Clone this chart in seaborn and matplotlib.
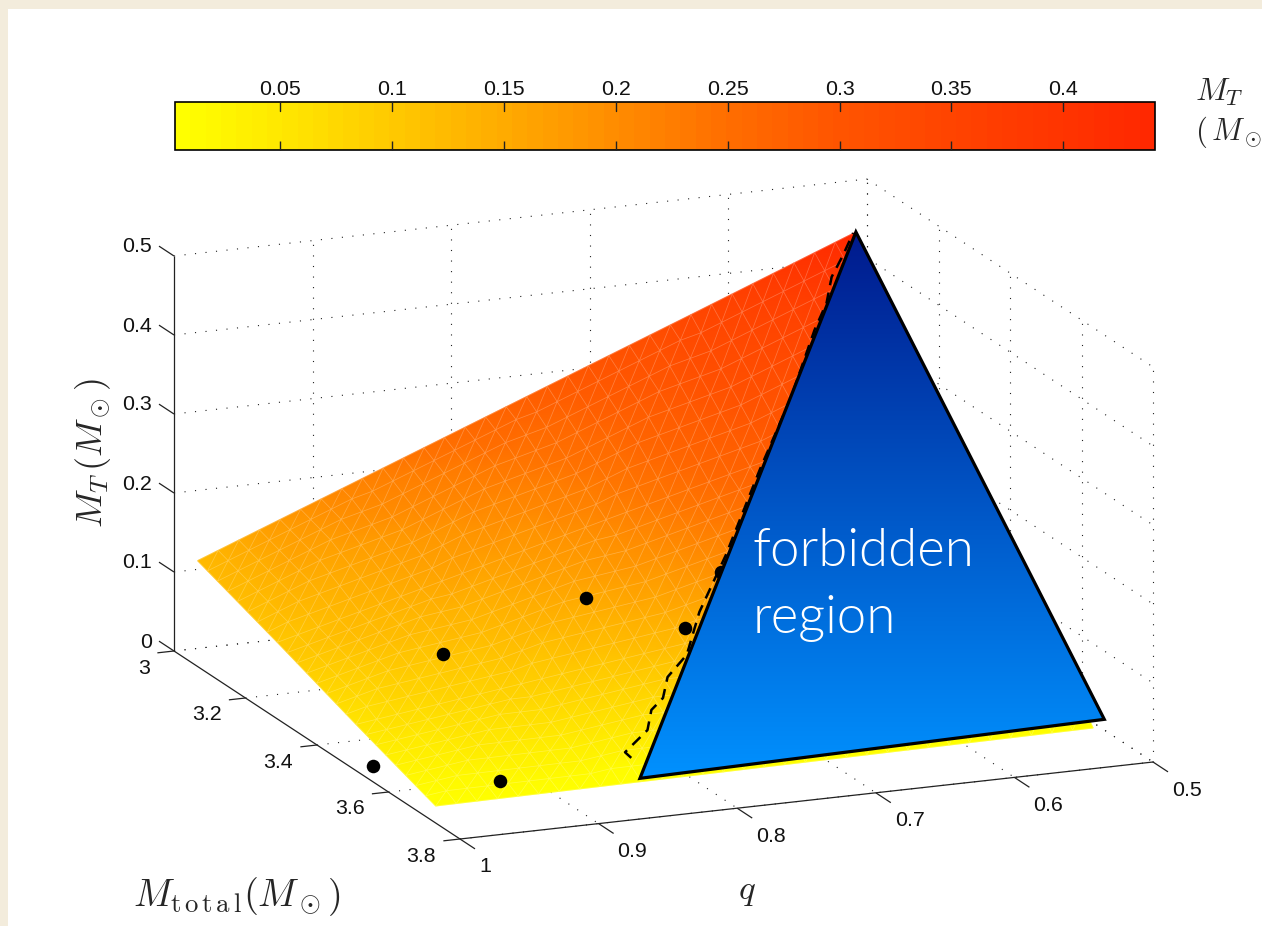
import numpy as np
import matplotlib
matplotlib.use('Agg')  # no display in here
import matplotlib.pyplot as plt
import matplotlib.tri as mtri
from matplotlib.colors import LinearSegmentedColormap, Normalize
from matplotlib.cm import ScalarMappable
from matplotlib.lines import Line2D
from matplotlib.patches import Rectangle
import seaborn as sns

# axis ticks
q_ticks = [1, 0.9, 0.8, 0.7, 0.6, 0.5]
q_tick_labels = ['1', '0.9', '0.8', '0.7', '0.6', '0.5']
mtot_ticks = [3, 3.2, 3.4, 3.6, 3.8]
mtot_tick_labels = ['3', '3.2', '3.4', '3.6', '3.8']
mt_ticks = [0, 0.1, 0.2, 0.3, 0.4, 0.5]
mt_tick_labels = ['0', '0.1', '0.2', '0.3', '0.4', '0.5']
cbar_ticks = [0.05, 0.1, 0.15, 0.2, 0.25, 0.3, 0.35, 0.4]
cbar_tick_labels = ['0.05', '0.1', '0.15', '0.2', '0.25', '0.3', '0.35', '0.4']

# colorbar colours (value -> green channel, red is always full)
cmap_vals = [0.003, 0.05, 0.1, 0.15, 0.2, 0.25, 0.3, 0.35, 0.441]
cmap_green = [255, 230, 200, 170, 140, 110, 85, 68, 40]

# surface, rows go from Mtotal=3 to the low edge
surf_q = [[0.983, 0.864, 0.7455, 0.627, 0.508],
          [0.983, 0.864, 0.745, 0.626, 0.507],
          [0.984, 0.864, 0.745, 0.625, 0.506],
          [0.984, 0.864, 0.7445, 0.625, 0.505]]
surf_mtot = [[3.0, 3.0, 3.0, 3.0, 3.0],
             [3.223, 3.222, 3.220, 3.219, 3.217],
             [3.447, 3.444, 3.441, 3.438, 3.435],
             [3.67, 3.6655, 3.661, 3.6565, 3.652]]
surf_mt = [[0.111, 0.192, 0.2725, 0.353, 0.4345],
           [0.074, 0.128, 0.182, 0.235, 0.290],
           [0.037, 0.064, 0.091, 0.118, 0.145],
           [0.0, 0.0, 0.0, 0.0, 0.0]]
# colour of the same nodes, taken against the colorbar
surf_colour = [[0.125, 0.22, 0.28, 0.34, 0.44],
               [0.105, 0.155, 0.21, 0.28, 0.30],
               [0.055, 0.09, 0.125, 0.17, 0.20],
               [0.0, 0.0, 0.0, 0.0, 0.0]]

# the blue triangle
forbid_q = [0.508, 0.832, 0.490]
forbid_mtot = [3.0, 3.652, 3.625]
forbid_mt = [0.4345, 0.0, 0.0]
forbid_shade = [0.0, 1.0, 0.89]

# black dots
dot_q = [0.985, 0.935, 0.921, 0.832, 0.76, 0.734]
dot_mtot = [3.499, 3.5, 3.605, 3.5, 3.5, 3.5]
dot_mt = [0.0, 0.132, 0.0, 0.183, 0.131, 0.197]

# dashed boundary
dash_q = [0.830, 0.8345, 0.808, 0.800, 0.7865, 0.778, 0.759, 0.737, 0.705,
          0.660, 0.6175, 0.609, 0.574, 0.555, 0.541, 0.525, 0.510]
dash_mtot = [3.62, 3.62, 3.58, 3.56, 3.54, 3.52, 3.50, 3.45, 3.40,
             3.32, 3.24, 3.22, 3.14, 3.10, 3.06, 3.03, 3.0]
dash_mt = [0.016, 0.024, 0.035, 0.053, 0.0595, 0.0785, 0.097, 0.132, 0.183,
           0.258, 0.3146, 0.3233, 0.3648, 0.3834, 0.4018, 0.4175, 0.4337]


def project(q, mtot, mt):
    # matlab view is basically orthographic so this is just an affine map to pixels
    q, mtot, mt = np.asarray(q, float), np.asarray(mtot, float), np.asarray(mt, float)
    px = 174 + (mtot - 3) * 357.5 + (1 - q) * 1386
    py = 651 + (mtot - 3) * 235 - (1 - q) * 154 - mt * 790
    return px, py


sns.set_theme(style='white')
plt.rcParams['font.family'] = ['Liberation Sans', 'DejaVu Sans']
plt.rcParams['mathtext.fontset'] = 'cm'

fig = plt.figure(figsize=(12.62, 9.26), dpi=100, facecolor='#f3ecdc')
ax = fig.add_axes([0, 0, 1, 1])
ax.set_xlim(0, 1262)
ax.set_ylim(926, 0)
ax.axis('off')
ax.add_patch(Rectangle((8, 9), 1262, 926, facecolor='white', edgecolor='none', zorder=0))

dotted = dict(color='#222222', lw=0.8, linestyle=(0, (1, 8.5)), zorder=1)
solid = dict(color='#222222', lw=0.9, zorder=1.5, solid_capstyle='butt')

# back wall grids
for mt in mt_ticks:
    ax.plot(*project([1, 0.5], [3, 3], [mt, mt]), **dotted)
    ax.plot(*project([0.5, 0.5], [3, 3.8], [mt, mt]), **dotted)
for q in q_ticks[1:]:
    ax.plot(*project([q, q], [3, 3], [0, 0.5]), **dotted)
    ax.plot(*project([q, q], [3, 3.8], [0, 0]), **dotted)
for m in mtot_ticks:
    ax.plot(*project([0.5, 0.5], [m, m], [0, 0.5]), **dotted)
    ax.plot(*project([1, 0.5], [m, m], [0, 0]), **dotted)

# solid axes and ticks
ax.plot(*project([1, 1], [3, 3], [0, 0.5]), **solid)
ax.plot(*project([1, 1], [3, 3.8], [0, 0]), **solid)
ax.plot(*project([1, 0.5], [3.8, 3.8], [0, 0]), **solid)

for mt, lab in zip(mt_ticks, mt_tick_labels):
    ax.plot(*project([1, 1], [3, 2.958], [mt, mt]), **solid)
    px, py = project(1, 3, mt)
    ax.text(px - 22, py - 9, lab, ha='right', va='center', fontsize=15.4, color='#111111')
for m, lab in zip(mtot_ticks, mtot_tick_labels):
    ax.plot(*project([1, 1.012], [m, m], [0, 0]), **solid)
    px, py = project(1, m, 0)
    ax.text(px - 24, py + 17, lab, ha='right', va='center', fontsize=15.4, color='#111111')
for q, lab in zip(q_ticks, q_tick_labels):
    ax.plot(*project([q, q], [3.8, 3.842], [0, 0]), **solid)
    px, py = project(q, 3.8, 0)
    ax.text(px + 19, py + 28, lab, ha='left', va='center', fontsize=15.4, color='#111111')

# surface, refiner makes the fine triangle mesh the picture has
cmap_pos = (np.array(cmap_vals) - cmap_vals[0]) / (cmap_vals[-1] - cmap_vals[0])
cmap = LinearSegmentedColormap.from_list(
    'ylrd', [(p, (1, g / 255, 0)) for p, g in zip(cmap_pos, cmap_green)], N=64)
norm = Normalize(cmap_vals[0], cmap_vals[-1])

sx, sy = project(surf_q, surf_mtot, surf_mt)
nrow, ncol = sx.shape
tris = []
for i in range(nrow - 1):
    for j in range(ncol - 1):
        a, b, c, d = i * ncol + j, i * ncol + j + 1, (i + 1) * ncol + j, (i + 1) * ncol + j + 1
        tris += [[a, b, c], [b, d, c]]
surf_tri = mtri.Triangulation(sx.ravel(), sy.ravel(), tris)
fine_tri, fine_c = mtri.UniformTriRefiner(surf_tri).refine_field(np.ravel(surf_colour), subdiv=3)
ax.tripcolor(fine_tri, fine_c, shading='gouraud', cmap=cmap, norm=norm, zorder=2)
ax.triplot(fine_tri, color='white', lw=0.55, alpha=0.25, zorder=2.1)

# dots and dashed line through seaborn, they sit under the triangle
dx, dy = project(dot_q, dot_mtot, dot_mt)
sns.scatterplot(x=dx, y=dy, ax=ax, color='black', s=95, linewidth=0, zorder=3, legend=False)

lx, ly = project(dash_q, dash_mtot, dash_mt)
sns.lineplot(x=lx, y=ly, ax=ax, sort=False, estimator=None, color='black', lw=1.8,
             linestyle=(0, (4.5, 3)), zorder=3.1, legend=False)

# forbidden region
blue = LinearSegmentedColormap.from_list('forbid', ['#00198c', '#0091ff'])
fx, fy = project(forbid_q, forbid_mtot, forbid_mt)
ax.tripcolor(mtri.Triangulation(fx, fy, [[0, 1, 2]]), forbid_shade, shading='gouraud', cmap=blue,
             vmin=0, vmax=1, zorder=4)
ax.fill(fx, fy, facecolor='none', edgecolor='black', lw=2.3, joinstyle='miter', zorder=4.1)
ax.text(753, 551, 'forbidden', family='Lato', fontweight=300, fontsize=38, color='white',
        ha='left', va='center', zorder=5)
ax.text(753, 618, 'region', family='Lato', fontweight=300, fontsize=38, color='white',
        ha='left', va='center', zorder=5)

# axis titles
ax.text(93, 453, r'$M_T\,(M_\odot)$', rotation=90, ha='center', va='center', fontsize=26)
ax.text(237, 897, r'$M_{\mathrm{t\,o\,t\,a\,l}}(M_\odot)$', ha='center', va='center', fontsize=27.5)
ax.text(747, 891, r'$q$', ha='center', va='center', fontsize=25)
ax.text(1195, 92, r'$M_T$', ha='left', va='center', fontsize=23)
ax.text(1195, 132, r'$(\,M_\odot$', ha='left', va='center', fontsize=22)

# colorbar on top
cax = fig.add_axes([175 / 1262, 1 - 150 / 926, 980 / 1262, 48 / 926])
cbar = fig.colorbar(ScalarMappable(norm=norm, cmap=cmap), cax=cax, orientation='horizontal')
cbar.set_ticks(cbar_ticks)
cbar.set_ticklabels(cbar_tick_labels)
cax.set_axisbelow(False)  # seaborn style hides the ticks under the colours otherwise
cax.tick_params(axis='x', top=False, bottom=True, labeltop=True, labelbottom=False, direction='in',
                length=6.5, width=1, color='#222222', labelsize=15.4, labelcolor='#111111', pad=2)
# top tick marks wont show up on the colorbar axis so put them on the figure
for v in cbar_ticks:
    fig.add_artist(Line2D([v, v], [0.81, 1], transform=cax.get_xaxis_transform(),
                          color='#222222', lw=1, zorder=5))
cbar.outline.set_linewidth(1.2)
cbar.outline.set_edgecolor('black')

ax.set_xlim(0, 1262)
ax.set_ylim(926, 0)
fig.savefig('out.png', dpi=100, facecolor=fig.get_facecolor())
